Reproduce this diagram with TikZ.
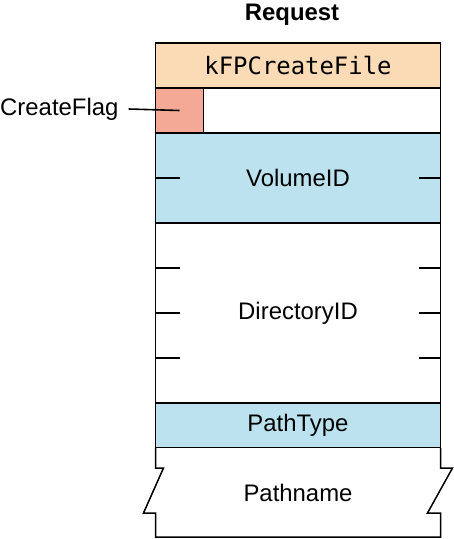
\documentclass[tikz,border=0pt]{standalone}
\usepackage{fontspec}
\setmainfont{Liberation Sans}
\setsansfont{Liberation Sans}
\setmonofont{DejaVu Sans Mono}
\usetikzlibrary{positioning}

\definecolor{hdrpeach}{HTML}{FBDBB5}
\definecolor{flagred}{HTML}{F4A996}
\definecolor{fieldblue}{HTML}{BDE2EF}

\begin{document}
\begin{tikzpicture}[
        x=1bp, y=-1bp,
        field/.style={
            rectangle,
            draw=black,
            fill=white,
            line width=1.5bp,
            outer sep=0pt,
            inner sep=0pt,
            minimum width=285bp,
            font=\fontsize{24}{28}\selectfont},
        tick/.style={line width=1.6bp},
        node distance=0pt
        ]
        \useasboundingbox (0,0) rectangle (454,539);

        \node[font=\bfseries\fontsize{24}{28}\selectfont, anchor=base] (title) at (292,21) {Request};

        \node[field, fill=hdrpeach, minimum height=45bp, anchor=north west] (cmd) at (155.5,43) {\ttfamily kFPCreateFile};
        \node[field, minimum height=45bp, below=of cmd] (flagrow) {};
        \node[field, fill=fieldblue, minimum height=90bp, below=of flagrow] (vol) {VolumeID};
        \node[field, minimum height=180bp, below=of vol] (dir) {DirectoryID};
        \node[field, fill=fieldblue, minimum height=45bp, below=of dir] (ptype) {PathType};
        \node[field, draw=none, minimum height=89bp, below=of ptype] (pname) {Pathname};

        % flag bit at the left of the second row
        \node[field, fill=flagred, minimum width=48bp, minimum height=45bp, anchor=north west] (flag) at (flagrow.north west) {};
        \node[font=\fontsize{24}{28}\selectfont, inner sep=0pt, anchor=west] (flaglbl) at (0,109) {CreateFlag};
        \draw[tick] (flaglbl.east) ++(10,0) -- (flag.center);

        % broken edges of the pathname field
        \draw[line width=1.5bp, line join=miter]
            (pname.north west) -- ++(0,20) -- ++(8,0) -- ++(-20,45) -- ++(12,0)
            -- (pname.south west) -- (pname.south east) -- ++(0,-24) -- ++(-13,0)
            -- ++(25,-45) -- ++(-12,0) -- (pname.north east);

        % ticks on the long fields
        \foreach \f/\dy in {vol/0, dir/-45, dir/0, dir/45} {
            \draw[tick] ([yshift=\dy]\f.west) -- ++(24,0);
            \draw[tick] ([yshift=\dy]\f.east) -- ++(-22,0);
        }
\end{tikzpicture}
\end{document}
